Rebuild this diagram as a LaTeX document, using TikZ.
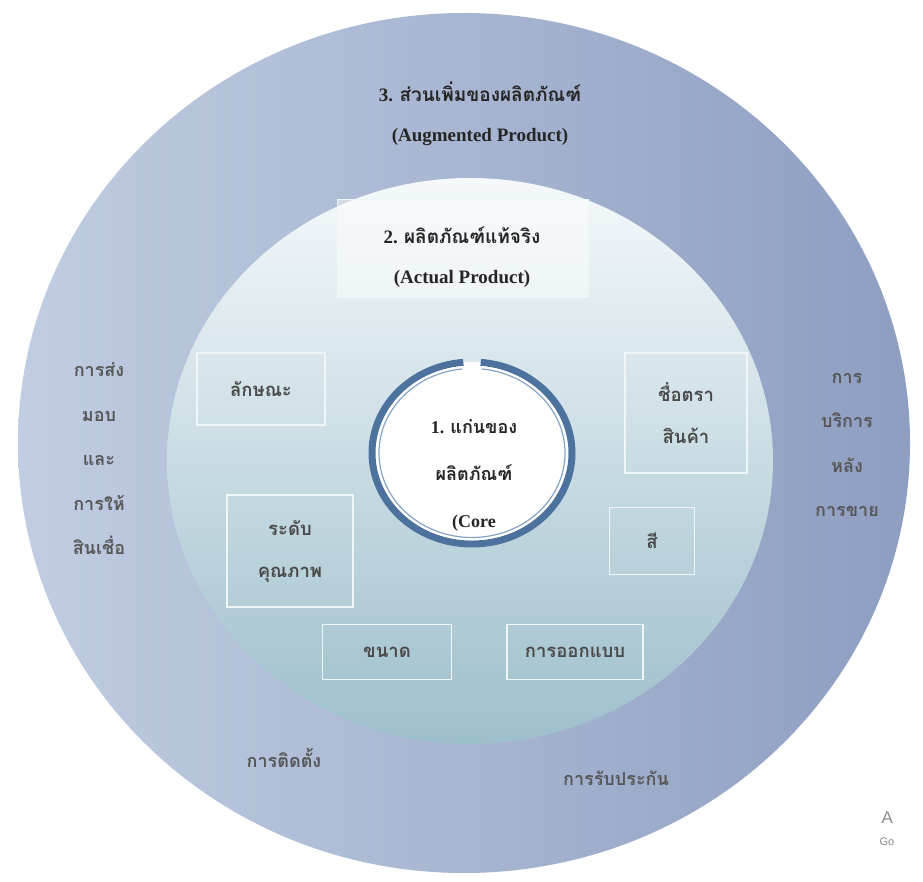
\documentclass[tikz,border=0pt]{standalone}
\usepackage{fontspec}
\setmainfont{Liberation Serif}
\setsansfont{Liberation Sans}
\newfontfamily\thaifont[Script=Thai]{Loma}
\usetikzlibrary{positioning,shapes.geometric}

\definecolor{outerlight}{HTML}{C0CDE2}
\definecolor{outerdark}{HTML}{8E9EC1}
\definecolor{midtop}{HTML}{F5F9FB}
\definecolor{midmid}{HTML}{CDE0E7}
\definecolor{midbottom}{HTML}{9DBFCB}
\definecolor{ringblue}{HTML}{4E729E}
\definecolor{ringlight}{HTML}{86A5C6}
\definecolor{boxline}{HTML}{EEF6F8}
\definecolor{titletext}{HTML}{262626}
\definecolor{itemtext}{HTML}{4A4A4A}
\definecolor{sidegray}{HTML}{575757}

\tikzset{
  itembox/.style={draw=boxline,line width=1.4pt,inner sep=0pt,align=center,
    text=itemtext,font=\thaifont\bfseries\fontsize{18.5}{42}\selectfont},
  sidetext/.style={align=center,text=sidegray,font=\thaifont\bfseries\fontsize{18}{44.5}\selectfont},
  titletext/.style={align=center,text=titletext,font=\bfseries\fontsize{19}{40}\selectfont},
  coretext/.style={align=center,text=titletext,font=\bfseries\fontsize{18}{47}\selectfont},
}

\begin{document}
\begin{tikzpicture}[x=1pt,y=-1pt]
\useasboundingbox[fill=white] (0,0) rectangle (923,882);
% three layers
\shade[left color=outerlight,right color=outerdark] (464,443) ellipse [x radius=446,y radius=430];
\shade[top color=midtop,middle color=midmid,bottom color=midbottom] (470,461) ellipse [x radius=303,y radius=283];
\node[ellipse,fill=white,minimum width=200,minimum height=182] (core) at (472,453) {};
\draw[ringblue,line width=7pt] (core.center) ++(95:100 and -91) arc[start angle=95,end angle=445,x radius=100,y radius=-91];
\draw[white,line width=1.6pt] (core.center) ++(96:95 and -86.5) arc[start angle=96,end angle=444,x radius=95,y radius=-86.5];
\draw[ringlight,line width=1.2pt] (core.center) ++(96:93 and -84.5) arc[start angle=96,end angle=444,x radius=93,y radius=-84.5];

% layer titles
\node[titletext] (augmented) at (480,114) {3. {\thaifont ส่วนเพิ่มของผลิตภัณฑ์}\\(Augmented Product)};
\node[titletext,draw=boxline,line width=1pt,fill=white,fill opacity=0.45,text opacity=1,
  minimum width=251,minimum height=98] (actual) at (463,249) {};
\node[titletext] (actualtext) at (462,257) {2. {\thaifont ผลิตภัณฑ์แท้จริง}\\(Actual Product)};
\node[coretext] (coretitle) at (474,475) {1. {\thaifont แก่นของ}\\{\thaifont ผลิตภัณฑ์}\\(Core};

% actual product features
\node[itembox,minimum width=128,minimum height=72] (feature) at (261,389) {ลักษณะ};
\node[itembox,minimum width=126,minimum height=112] (quality) at (290,551) {ระดับ\\คุณภาพ};
\node[itembox,minimum width=122,minimum height=120] (brand) at (686,413) {ชื่อตรา\\สินค้า};
\node[itembox,minimum width=85,minimum height=67] (colour) at (652,541) {สี};
\node[itembox,minimum width=129,minimum height=55] (size) at (387,652) {ขนาด};
\node[itembox,minimum width=136,minimum height=55] (design) at (575,652) {การออกแบบ};

% augmented services
\node[sidetext] (delivery) at (99,459) {การส่ง\\มอบ\\และ\\การให้\\สินเชื่อ};
\node[sidetext] (aftersale) at (847,445) {การ\\บริการ\\หลัง\\การขาย};
\node[sidetext] (install) at (284,758) {การติดตั้ง};
\node[sidetext] (warranty) at (616,778) {การรับประกัน};

% watermark remains
\node[text=black!45,font=\sffamily\fontsize{17}{17}\selectfont,anchor=west] (wmA) at (878,818) {A};
\node[text=black!45,font=\sffamily\fontsize{11}{11}\selectfont,anchor=west] (wmGo) at (876,842) {Go};
\end{tikzpicture}
\end{document}
